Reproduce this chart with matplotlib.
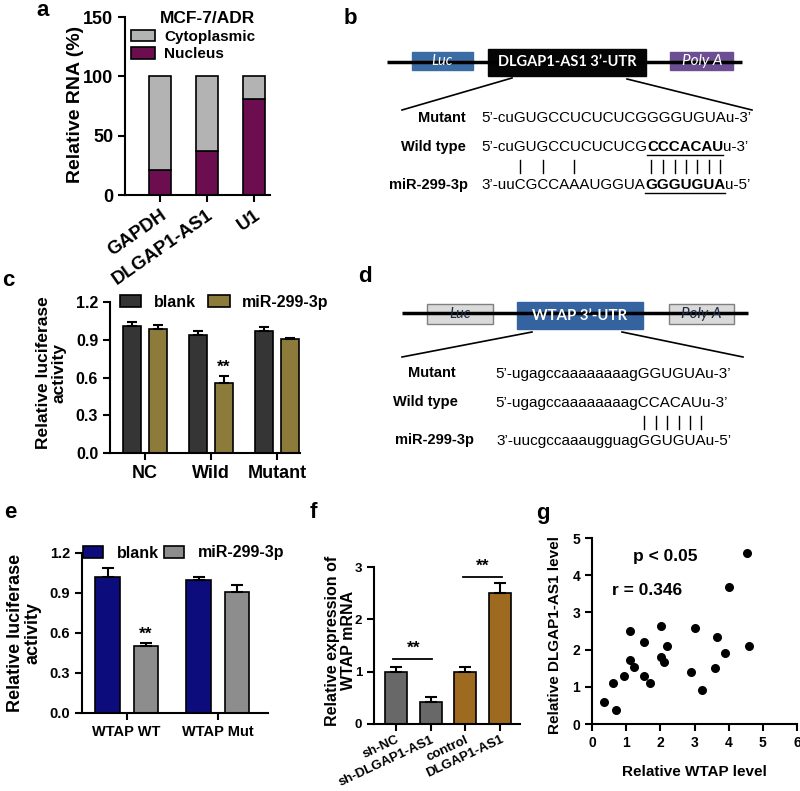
import numpy as np
import matplotlib
matplotlib.use('Agg')
import matplotlib.pyplot as plt
from matplotlib.patches import Rectangle, Patch

plt.rcParams['font.family'] = ['Liberation Sans', 'DejaVu Sans']
plt.rcParams['font.weight'] = 'bold'
plt.rcParams['axes.labelweight'] = 'bold'
plt.rcParams['axes.linewidth'] = 1.5

# panel a - subcellular fractionation
a_genes = ['GAPDH', 'DLGAP1-AS1', 'U1']
a_nucleus = [21, 37, 81]
a_cyto = [79, 63, 19]

# panel c - luciferase, DLGAP1-AS1 reporter
c_groups = ['NC', 'Wild', 'Mutant']
c_blank = [1.01, 0.935, 0.97]
c_blank_err = [0.03, 0.035, 0.035]
c_mir = [0.985, 0.56, 0.905]
c_mir_err = [0.035, 0.05, 0.01]

# panel e - luciferase, WTAP reporter
e_groups = ['WTAP WT', 'WTAP Mut']
e_blank = [1.02, 1.0]
e_blank_err = [0.065, 0.02]
e_mir = [0.50, 0.91]
e_mir_err = [0.025, 0.05]

# panel f - WTAP mRNA
f_groups = ['sh-NC', 'sh-DLGAP1-AS1', 'control', 'DLGAP1-AS1']
f_vals = [1.0, 0.42, 1.0, 2.5]
f_err = [0.09, 0.09, 0.09, 0.2]

# panel g - correlation
g_wtap = [0.36, 0.71, 0.61, 0.93, 1.10, 1.10, 1.22, 1.51, 1.51, 1.71, 2.02, 2.02,
          2.12, 2.20, 2.91, 3.00, 3.21, 3.61, 3.66, 3.90, 4.01, 4.55, 4.60]
g_dlgap = [0.60, 0.38, 1.11, 1.30, 2.51, 1.71, 1.52, 2.20, 1.30, 1.11, 2.64, 1.81,
           1.68, 2.10, 1.40, 2.59, 0.91, 1.51, 2.34, 1.90, 3.69, 4.59, 2.10]

W, H = 800, 791
fig = plt.figure(figsize=(W / 100, H / 100), dpi=100)

# overlay axes in pixel coordinates for the diagrams and panel letters
dax = fig.add_axes([0, 0, 1, 1])
dax.set_xlim(0, W)
dax.set_ylim(H, 0)
dax.axis('off')


def px_axes(l, t, r, b):
    return fig.add_axes([l / W, 1 - b / H, (r - l) / W, (b - t) / H])


def style(ax, fs):
    for s in ['top', 'right']:
        ax.spines[s].set_visible(False)
    ax.tick_params(direction='out', length=5, width=1.5, labelsize=fs)


def ylab(ax, text, fs, x, y=0.5):
    ax.set_ylabel(text, fontsize=fs, va='center', ha='center', linespacing=1.1)
    ax.yaxis.set_label_coords(x, y)


renderer = fig.canvas.get_renderer()


def measure(s, size, weight):
    if not s:
        return 0.0
    t = dax.text(0, 0, s, fontsize=size, weight=weight)
    w = t.get_window_extent(renderer).width
    t.remove()
    return w


def draw_seq(x, y, parts, size, bar_idx=(), bar_y=None):
    pos = x
    idx = 0
    centers = []
    for s, bold in parts:
        wt = 'bold' if bold else 'normal'
        dax.text(pos, y, s, fontsize=size, weight=wt, ha='left', va='center')
        for k in range(len(s)):
            if idx + k in bar_idx:
                a0 = measure(s[:k], size, wt)
                a1 = measure(s[:k + 1], size, wt)
                centers.append(pos + (a0 + a1) / 2)
        sw = measure(s, size, wt)
        if bold:
            dax.plot([pos, pos + sw], [y + 7.5, y + 7.5], color='black', lw=1.0)
        pos += sw
        idx += len(s)
    for c in centers:
        dax.plot([c, c], [bar_y[0], bar_y[1]], color='black', lw=1.0)


# ---------------- panel a ----------------
ax = px_axes(125, 17, 270, 195)
xa = np.arange(len(a_genes))
ax.bar(xa, a_nucleus, 0.47, color='#6b0d4f', edgecolor='black', lw=1.2)
ax.bar(xa, a_cyto, 0.47, bottom=a_nucleus, color='#b3b3b3', edgecolor='black', lw=1.2)
ax.set_ylim(0, 150)
ax.set_yticks([0, 50, 100, 150])
ax.set_xlim(-0.75, 2.35)
ax.set_xticks(xa)
ax.set_xticklabels(a_genes, rotation=35, ha='right', rotation_mode='anchor')
style(ax, 13)
ax.tick_params(axis='x', labelsize=13.5)
ylab(ax, 'Relative RNA (%)', 14, -0.34, 0.506)
ax.legend(handles=[Patch(facecolor='#b3b3b3', edgecolor='black', lw=1.2, label='Cytoplasmic'),
                   Patch(facecolor='#6b0d4f', edgecolor='black', lw=1.2, label='Nucleus')],
          title='MCF-7/ADR', title_fontproperties={'weight': 'bold', 'size': 12.5},
          alignment='right', loc='upper left', bbox_to_anchor=(0.03, 1.04),
          frameon=False, fontsize=11, handlelength=1.6, handleheight=0.8,
          handletextpad=0.6, labelspacing=0.22, borderpad=0.1, borderaxespad=0)

# ---------------- panel c ----------------
ax = px_axes(110, 302, 300, 453)
xc = np.arange(len(c_groups))
ax.bar(xc - 0.2, c_blank, 0.27, color='#353535', edgecolor='black', lw=1.2)
ax.bar(xc + 0.2, c_mir, 0.27, color='#8c7b3b', edgecolor='black', lw=1.2)
ax.errorbar(xc - 0.2, c_blank, yerr=[np.zeros(3), c_blank_err], fmt='none',
            ecolor='black', elinewidth=1.5, capsize=3.5, capthick=1.5)
ax.errorbar(xc + 0.2, c_mir, yerr=[np.zeros(3), c_mir_err], fmt='none',
            ecolor='black', elinewidth=1.5, capsize=3.5, capthick=1.5)
ax.text(1.2, 0.68, '**', ha='center', va='center', fontsize=12.5)
ax.set_ylim(0, 1.2)
ax.set_yticks([0, 0.3, 0.6, 0.9, 1.2])
ax.set_yticklabels(['0.0', '0.3', '0.6', '0.9', '1.2'])
ax.set_xlim(-0.53, 2.35)
ax.set_xticks(xc)
ax.set_xticklabels(c_groups)
style(ax, 11.5)
ax.tick_params(axis='x', labelsize=13)
ylab(ax, 'Relative luciferase\nactivity', 12.5, -0.31, 0.53)
ax.legend(handles=[Patch(facecolor='#353535', edgecolor='black', lw=1.2, label='blank'),
                   Patch(facecolor='#8c7b3b', edgecolor='black', lw=1.2, label='miR-299-3p')],
          ncol=2, loc='center left', bbox_to_anchor=(0.05, 1.0), frameon=False,
          fontsize=11.5, handlelength=1.35, handleheight=0.7, handletextpad=0.8,
          columnspacing=0.75, borderpad=0.0, borderaxespad=0)

# ---------------- panel e ----------------
ax = px_axes(82, 553, 268, 713)
xe = np.arange(len(e_groups))
ax.bar(xe - 0.21, e_blank, 0.27, color='#0c0c7c', edgecolor='black', lw=1.2)
ax.bar(xe + 0.21, e_mir, 0.27, color='#8d8d8d', edgecolor='black', lw=1.2)
ax.errorbar(xe - 0.21, e_blank, yerr=[np.zeros(2), e_blank_err], fmt='none',
            ecolor='black', elinewidth=1.5, capsize=4, capthick=1.5)
ax.errorbar(xe + 0.21, e_mir, yerr=[np.zeros(2), e_mir_err], fmt='none',
            ecolor='black', elinewidth=1.5, capsize=4, capthick=1.5)
ax.text(0.21, 0.59, '**', ha='center', va='center', fontsize=12.5)
ax.set_ylim(0, 1.2)
ax.set_yticks([0, 0.3, 0.6, 0.9, 1.2])
ax.set_yticklabels(['0.0', '0.3', '0.6', '0.9', '1.2'])
ax.set_xlim(-0.49, 1.55)
ax.set_xticks(xe)
ax.set_xticklabels(e_groups)
style(ax, 10.5)
ylab(ax, 'Relative luciferase\nactivity', 13, -0.31, 0.5)
ax.legend(handles=[Patch(facecolor='#0c0c7c', edgecolor='black', lw=1.2, label='blank'),
                   Patch(facecolor='#8d8d8d', edgecolor='black', lw=1.2, label='miR-299-3p')],
          ncol=2, loc='center left', bbox_to_anchor=(0.005, 1.0), frameon=False,
          fontsize=11.5, handlelength=1.25, handleheight=0.7, handletextpad=0.85,
          columnspacing=0.35, borderpad=0.0, borderaxespad=0)

# ---------------- panel f ----------------
ax = px_axes(374, 567, 520, 724)
xf = np.arange(len(f_groups))
f_colors = ['#686868', '#686868', '#9e6a1f', '#9e6a1f']
ax.bar(xf, f_vals, 0.63, color=f_colors, edgecolor='black', lw=1.2)
ax.errorbar(xf, f_vals, yerr=[np.zeros(4), f_err], fmt='none',
            ecolor='black', elinewidth=1.5, capsize=4, capthick=1.5)
for (i, j, yl) in [(0, 1, 1.25), (2, 3, 2.81)]:
    ax.plot([i - 0.08, j + 0.05], [yl, yl], color='black', lw=1.3)
    ax.text((i + j) / 2, yl + 0.2, '**', ha='center', va='center', fontsize=12.5)
ax.set_ylim(0, 3)
ax.set_yticks([0, 1, 2, 3])
ax.set_xlim(-0.63, 3.57)
ax.set_xticks(xf)
ax.set_xticklabels(f_groups, rotation=25, ha='right', rotation_mode='anchor')
style(ax, 9.5)
ax.tick_params(axis='x', pad=2)
ylab(ax, 'Relative expression of\nWTAP mRNA', 11.5, -0.23, 0.53)

# ---------------- panel g ----------------
ax = px_axes(592, 538, 797, 724)
ax.scatter(g_wtap, g_dlgap, s=30, color='black', zorder=3)
ax.set_xlim(0, 6)
ax.set_ylim(0, 5)
ax.set_xticks(range(7))
ax.set_yticks(range(6))
style(ax, 10)
ylab(ax, 'Relative DLGAP1-AS1 level', 11, -0.18, 0.48)
ax.set_xlabel('Relative WTAP level', fontsize=11)
ax.xaxis.set_label_coords(0.5, -0.22)
ax.text(1.2, 4.5, 'p < 0.05', fontsize=12.5, va='center')
ax.text(0.58, 3.6, 'r = 0.346', fontsize=12.5, va='center')

# ---------------- panel b diagram ----------------
dax.plot([387, 742], [62, 62], color='black', lw=2.5, solid_capstyle='butt')
dax.add_patch(Rectangle((412, 52), 61, 18, color='#3c6ca4'))
dax.add_patch(Rectangle((488, 49), 158, 27, color='#050505'))
dax.add_patch(Rectangle((670, 52), 63, 18, color='#6b4f92'))
dax.text(442, 61, 'Luc', color='white', fontsize=10.5, style='italic', weight='normal',
         family=['Lato', 'DejaVu Sans'], ha='center', va='center')
dax.text(567, 62, 'DLGAP1-AS1 3’-UTR', color='white', fontsize=10.5, weight='bold',
         family=['Lato', 'DejaVu Sans'], ha='center', va='center')
dax.text(702, 61, 'Poly A', color='white', fontsize=11, style='italic', weight='normal',
         family=['Lato', 'DejaVu Sans'], ha='center', va='center')
dax.plot([512, 402], [78, 110], color='black', lw=1.2)
dax.plot([627, 752], [79, 110], color='black', lw=1.2)

dax.text(466, 118, 'Mutant', fontsize=10.5, ha='right', va='center')
dax.text(466, 147, 'Wild type', fontsize=10.5, ha='right', va='center')
dax.text(468, 185, 'miR-299-3p', fontsize=10.5, ha='right', va='center')
draw_seq(481, 118, [('5’-cuGUGCCUCUCUCGGGGUGUAu-3’', False)], 10.9)
draw_seq(481, 147, [('5’-cuGUGCCUCUCUCG', False), ('CCCACAU', True), ('u-3’', False)], 10.9)
draw_seq(481, 185, [('3’-uuCGCCAAAUGGUA', False), ('GGGUGUA', True), ('u-5’', False)], 10.9,
         bar_idx=(5, 7, 10, 17, 18, 19, 20, 21, 22, 23), bar_y=(160, 173))

# ---------------- panel d diagram ----------------
dax.plot([402, 748], [313, 313], color='black', lw=2.5, solid_capstyle='butt')
dax.add_patch(Rectangle((427, 304), 66, 20, facecolor='#dadada', edgecolor='#7f7f7f', lw=1))
dax.add_patch(Rectangle((517, 302), 126, 27, color='#3563a0'))
dax.add_patch(Rectangle((669, 304), 65, 20, facecolor='#dadada', edgecolor='#7f7f7f', lw=1))
dax.text(460, 314, 'Luc', color='#1f2a44', fontsize=10.5, style='italic', weight='normal',
         family=['Lato', 'DejaVu Sans'], ha='center', va='center')
dax.text(580, 316, 'WTAP 3’-UTR', color='white', fontsize=10.7, weight='bold',
         family=['Lato', 'DejaVu Sans'], ha='center', va='center')
dax.text(701, 314, 'Poly A', color='#1f2a44', fontsize=11, style='italic', weight='normal',
         family=['Lato', 'DejaVu Sans'], ha='center', va='center')
dax.plot([532, 402], [332, 357], color='black', lw=1.2)
dax.plot([622, 743], [332, 357], color='black', lw=1.2)

dax.text(432, 373, 'Mutant', fontsize=10.5, ha='center', va='center')
dax.text(425, 402, 'Wild type', fontsize=10.5, ha='center', va='center')
dax.text(435, 440, 'miR-299-3p', fontsize=10.5, ha='center', va='center')
draw_seq(495, 374, [('5’-ugagccaaaaaaaagGGUGUAu-3’', False)], 11)
draw_seq(495, 403, [('5’-ugagccaaaaaaaagCCACAUu-3’', False)], 11)
draw_seq(496, 441, [('3’-uucgccaaaugguagGGUGUAu-5’', False)], 11,
         bar_idx=(18, 19, 20, 21, 22, 23), bar_y=(416, 429))

# panel letters
for letter, x, y in [('a', 43, 10), ('b', 350, 18), ('c', 8, 280), ('d', 365, 277),
                     ('e', 10, 513), ('f', 313, 513), ('g', 543, 513)]:
    dax.text(x, y, letter, fontsize=16, ha='center', va='center')

fig.savefig('out.png', dpi=100)
